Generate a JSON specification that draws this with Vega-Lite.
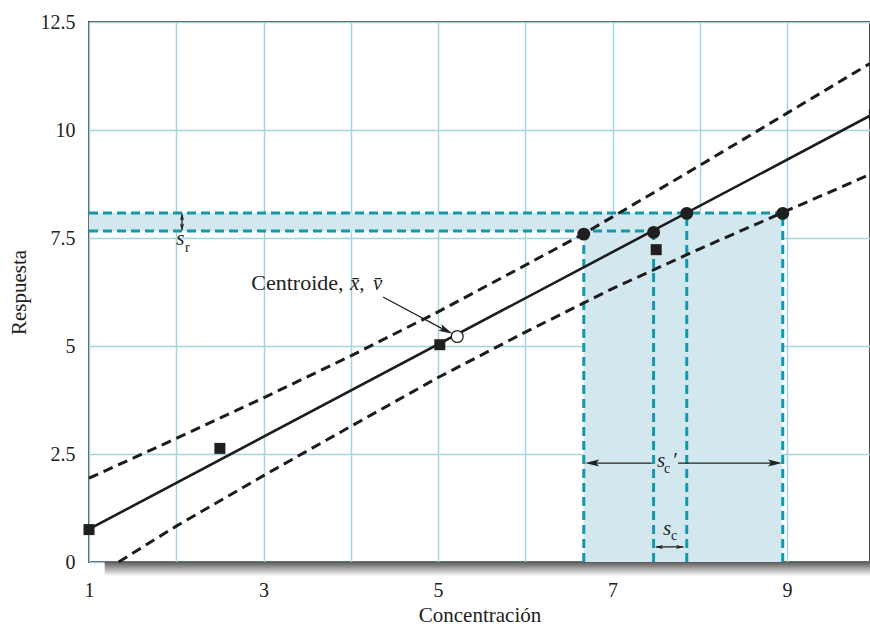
{
  "$schema": "https://vega.github.io/schema/vega-lite/v6.json",
  "width": 781,
  "height": 540,
  "autosize": {"type": "none"},
  "padding": {"left": 89, "top": 22, "right": 0, "bottom": 64},
  "background": "white",
  "config": {
    "view": {"stroke": "#4a4a4a", "strokeWidth": 2},
    "font": "Liberation Serif",
    "axis": {
      "domain": false,
      "ticks": false,
      "tickSize": 0,
      "grid": true,
      "gridColor": "#a3d5e0",
      "gridWidth": 1.5,
      "labelFont": "Liberation Serif",
      "labelFontSize": 20,
      "labelColor": "#222222",
      "labelOverlap": false,
      "labelFlush": false,
      "titleFont": "Liberation Serif",
      "titleFontSize": 21,
      "titleFontWeight": "normal",
      "titleColor": "#222222"
    }
  },
  "datasets": {
    "shadow": [{"x": 1.18, "x2": 10, "y": 0, "y2": -0.33}],
    "shade": [
      {"x": 1, "x2": 8.94, "y": 7.66, "y2": 8.08},
      {"x": 6.67, "x2": 8.94, "y": 0, "y2": 7.66}
    ],
    "bands": [
      {"band": "upper", "x": 1, "y": 1.94},
      {"band": "upper", "x": 2, "y": 2.86},
      {"band": "upper", "x": 3, "y": 3.8},
      {"band": "upper", "x": 4, "y": 4.77},
      {"band": "upper", "x": 5, "y": 5.79},
      {"band": "upper", "x": 6, "y": 6.87},
      {"band": "upper", "x": 6.67, "y": 7.6},
      {"band": "upper", "x": 7, "y": 7.99},
      {"band": "upper", "x": 8, "y": 9.18},
      {"band": "upper", "x": 9, "y": 10.39},
      {"band": "upper", "x": 9.95, "y": 11.54},
      {"band": "lower", "x": 1.34, "y": 0},
      {"band": "lower", "x": 2, "y": 0.83},
      {"band": "lower", "x": 3, "y": 2.0},
      {"band": "lower", "x": 4, "y": 3.14},
      {"band": "lower", "x": 5, "y": 4.27},
      {"band": "lower", "x": 6, "y": 5.32},
      {"band": "lower", "x": 7, "y": 6.33},
      {"band": "lower", "x": 8, "y": 7.25},
      {"band": "lower", "x": 8.95, "y": 8.09},
      {"band": "lower", "x": 9.95, "y": 8.97}
    ],
    "fit": [
      {"x": 1, "y": 0.76},
      {"x": 9.95, "y": 10.33}
    ],
    "teal": [
      {"x": 1, "x2": 8.95, "y": 8.08, "y2": 8.08},
      {"x": 1, "x2": 7.47, "y": 7.66, "y2": 7.66},
      {"x": 6.67, "x2": 6.67, "y": 0, "y2": 7.59},
      {"x": 7.47, "x2": 7.47, "y": 0, "y2": 7.63},
      {"x": 7.85, "x2": 7.85, "y": 0, "y2": 8.07},
      {"x": 8.95, "x2": 8.95, "y": 0, "y2": 8.07}
    ],
    "squares": [
      {"x": 1, "y": 0.75},
      {"x": 2.5, "y": 2.63},
      {"x": 5.02, "y": 5.03},
      {"x": 7.5, "y": 7.23},
      {"x": 10, "y": 10.35}
    ],
    "circles": [
      {"x": 6.67, "y": 7.59},
      {"x": 7.47, "y": 7.63},
      {"x": 7.85, "y": 8.07},
      {"x": 8.95, "y": 8.07}
    ],
    "centroid": [{"x": 5.22, "y": 5.22}],
    "arrowlines": [
      {"x": 4.369, "x2": 5.09, "y": 6.134, "y2": 5.357},
      {"x": 7.45, "x2": 6.77, "y": 2.29, "y2": 2.29},
      {"x": 7.75, "x2": 8.87, "y": 2.29, "y2": 2.29},
      {"x": 7.5, "x2": 7.81, "y": 0.35, "y2": 0.35},
      {"x": 2.066, "x2": 2.066, "y": 7.7, "y2": 8.04}
    ],
    "bigheads": [
      {"x": 6.765, "y": 2.29, "dir": "left"},
      {"x": 8.862, "y": 2.29, "dir": "right"},
      {"x": 5.094, "y": 5.357, "dir": "diag"}
    ],
    "smallheads": [
      {"x": 7.532, "y": 0.35, "dir": "left"},
      {"x": 7.773, "y": 0.35, "dir": "right"},
      {"x": 2.066, "y": 7.998, "dir": "up"},
      {"x": 2.066, "y": 7.743, "dir": "down"}
    ],
    "plaintext": [{"x": 2.86, "y": 6.296, "t": "Centroide,"}],
    "italictext": [
      {"x": 3.99, "y": 6.296, "t": "x̄,"},
      {"x": 4.255, "y": 6.296, "t": "v̄"},
      {"x": 2.0, "y": 7.338, "t": "s"},
      {"x": 7.509, "y": 2.199, "t": "s"},
      {"x": 7.68, "y": 2.2, "t": "′"},
      {"x": 7.578, "y": 0.625, "t": "s"}
    ],
    "subtext": [
      {"x": 2.1, "y": 7.18, "t": "r"},
      {"x": 7.59, "y": 2.06, "t": "c"},
      {"x": 7.67, "y": 0.51, "t": "c"}
    ]
  },
  "encoding": {
    "x": {
      "field": "x",
      "type": "quantitative",
      "scale": {"domain": [1, 9.95], "nice": false, "zero": false},
      "axis": {
        "values": [1, 2, 3, 4, 5, 6, 7, 8, 9],
        "labelExpr": "datum.value % 2 == 1 ? datum.label : ''",
        "labelPadding": 18,
        "title": "Concentración",
        "titleBaseline": "alphabetic",
        "titleY": 59
      }
    },
    "y": {
      "field": "y",
      "type": "quantitative",
      "scale": {"domain": [0, 12.5], "nice": false, "zero": false},
      "axis": {
        "values": [0, 2.5, 5, 7.5, 10, 12.5],
        "labelExpr": "'' + datum.value",
        "labelPadding": 14,
        "title": "Respuesta",
        "titleBaseline": "alphabetic",
        "titleX": -64,
        "titleY": 270
      }
    }
  },
  "layer": [
    {
      "data": {"name": "shadow"},
      "mark": {
        "type": "rect",
        "fill": {
          "gradient": "linear",
          "x1": 0, "y1": 0, "x2": 0, "y2": 1,
          "stops": [
            {"offset": 0, "color": "#5a5a5a"},
            {"offset": 1, "color": "#ffffff"}
          ]
        }
      },
      "encoding": {"x2": {"field": "x2"}, "y2": {"field": "y2"}}
    },
    {
      "data": {"name": "shade"},
      "mark": {"type": "rect", "fill": "#d3e8ee"},
      "encoding": {"x2": {"field": "x2"}, "y2": {"field": "y2"}}
    },
    {
      "data": {"name": "teal"},
      "mark": {"type": "rule", "color": "#1497a9", "strokeWidth": 3, "strokeDash": [9, 5]},
      "encoding": {"x2": {"field": "x2"}, "y2": {"field": "y2"}}
    },
    {
      "data": {"name": "bands"},
      "mark": {"type": "line", "color": "#1c1c1c", "strokeWidth": 3, "strokeDash": [10, 6]},
      "encoding": {"detail": {"field": "band"}}
    },
    {
      "data": {"name": "fit"},
      "mark": {"type": "line", "color": "#1c1c1c", "strokeWidth": 2.6}
    },
    {
      "data": {"name": "squares"},
      "mark": {"type": "point", "shape": "square", "filled": true, "color": "#1f1f1f", "size": 121, "opacity": 1}
    },
    {
      "data": {"name": "circles"},
      "mark": {"type": "point", "shape": "circle", "filled": true, "color": "#1f1f1f", "size": 165, "opacity": 1}
    },
    {
      "data": {"name": "centroid"},
      "mark": {"type": "point", "shape": "circle", "filled": true, "fill": "white", "stroke": "#222222", "strokeWidth": 1.3, "size": 140, "opacity": 1}
    },
    {
      "data": {"name": "arrowlines"},
      "mark": {"type": "rule", "color": "#222222", "strokeWidth": 1.3},
      "encoding": {"x2": {"field": "x2"}, "y2": {"field": "y2"}}
    },
    {
      "data": {"name": "bigheads"},
      "mark": {"type": "point", "filled": true, "color": "#222222", "size": 196, "opacity": 1, "strokeWidth": 0},
      "encoding": {
        "shape": {
          "field": "dir",
          "type": "nominal",
          "scale": {
            "domain": ["left", "right", "up", "down", "diag"],
            "range": [
              "M-1,0L1,-0.5L0.6,0L1,0.5Z",
              "M1,0L-1,-0.5L-0.6,0L-1,0.5Z",
              "M0,-1L-0.5,1L0,0.6L0.5,1Z",
              "M0,1L-0.5,-1L0,-0.6L0.5,-1Z",
              "M0.897,0.441L-1.118,0.008L-0.538,-0.265L-0.677,-0.89Z"
            ]
          },
          "legend": null
        }
      }
    },
    {
      "data": {"name": "smallheads"},
      "mark": {"type": "point", "filled": true, "color": "#222222", "size": 64, "opacity": 1, "strokeWidth": 0},
      "encoding": {
        "shape": {
          "field": "dir",
          "type": "nominal",
          "scale": {
            "domain": ["left", "right", "up", "down", "diag"],
            "range": [
              "M-1,0L1,-0.5L0.6,0L1,0.5Z",
              "M1,0L-1,-0.5L-0.6,0L-1,0.5Z",
              "M0,-1L-0.5,1L0,0.6L0.5,1Z",
              "M0,1L-0.5,-1L0,-0.6L0.5,-1Z",
              "M0.897,0.441L-1.118,0.008L-0.538,-0.265L-0.677,-0.89Z"
            ]
          },
          "legend": null
        }
      }
    },
    {
      "data": {"name": "plaintext"},
      "mark": {"type": "text", "align": "left", "baseline": "alphabetic", "font": "Liberation Serif", "fontSize": 22, "color": "#222222"},
      "encoding": {"text": {"field": "t"}}
    },
    {
      "data": {"name": "italictext"},
      "mark": {"type": "text", "align": "left", "baseline": "alphabetic", "font": "Liberation Serif", "fontStyle": "italic", "fontSize": 21, "color": "#222222"},
      "encoding": {"text": {"field": "t"}}
    },
    {
      "data": {"name": "subtext"},
      "mark": {"type": "text", "align": "left", "baseline": "alphabetic", "font": "Liberation Serif", "fontSize": 14, "color": "#222222"},
      "encoding": {"text": {"field": "t"}}
    }
  ]
}
